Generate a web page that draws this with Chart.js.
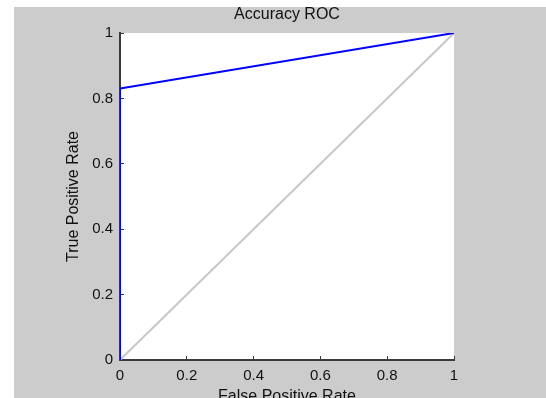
<!DOCTYPE html>
<html>
<head>
<meta charset="utf-8">
<script src="https://cdn.jsdelivr.net/npm/chart.js@4"></script>
<style>
    html, body { margin: 0; padding: 0; background: #ffffff; overflow: hidden; }
    #wrap { position: relative; width: 546px; height: 398px; }
</style>
</head>
<body>
<div id="wrap"><canvas id="rocChart" width="546" height="398"></canvas></div>
<script>
// ROC curve points
const rocFpr = [0, 0, 1];
const rocTpr = [0, 0.83, 1];

// Chance diagonal
const chanceFpr = [0, 1];
const chanceTpr = [0, 1];

// Axis ticks
const tickValues = [0, 0.2, 0.4, 0.6, 0.8, 1];
const tickLabels = ['0', '0.2', '0.4', '0.6', '0.8', '1'];

const FONT = '"Liberation Sans", Arial, sans-serif';
const AXIS_COLOR = '#3a3a3a';
const TEXT_COLOR = '#111111';

// Figure background: grey panel with white plot box
const backgroundPlugin = {
    id: 'figureBackground',
    beforeDraw(chart) {
        const ctx = chart.ctx;
        const area = chart.chartArea;
        ctx.save();
        ctx.fillStyle = '#ffffff';
        ctx.fillRect(0, 0, chart.width, chart.height);
        ctx.fillStyle = '#cccccc';
        ctx.fillRect(14, 7, chart.width - 14, chart.height - 7);
        ctx.fillStyle = '#ffffff';
        ctx.fillRect(area.left, area.top, area.right - area.left, area.bottom - area.top);
        ctx.restore();
    }
};

function toPoints(xs, ys) {
    return xs.map((x, i) => ({ x: x, y: ys[i] }));
}

function tickLabel(value) {
    const idx = tickValues.findIndex(v => Math.abs(v - value) < 1e-9);
    return idx >= 0 ? tickLabels[idx] : '';
}

const ctx = document.getElementById('rocChart').getContext('2d');

new Chart(ctx, {
    type: 'line',
    data: {
        datasets: [
            {
                label: 'ROC',
                data: toPoints(rocFpr, rocTpr),
                borderColor: '#0000ff',
                borderWidth: 2,
                pointRadius: 0,
                tension: 0,
                order: 0
            },
            {
                label: 'Chance',
                data: toPoints(chanceFpr, chanceTpr),
                borderColor: '#c8c8c8',
                borderWidth: 2,
                pointRadius: 0,
                tension: 0,
                order: 1
            }
        ]
    },
    options: {
        responsive: false,
        animation: false,
        layout: {
            padding: { left: 0, right: 92, top: 0, bottom: 0 }
        },
        plugins: {
            legend: { display: false },
            tooltip: { enabled: false },
            title: {
                display: true,
                fullSize: false, // centre over the plot box, not the canvas
                text: 'Accuracy ROC',
                color: TEXT_COLOR,
                font: { family: FONT, size: 16, weight: 'normal' },
                padding: { top: 5, bottom: 8.8 }
            }
        },
        scales: {
            x: {
                type: 'linear',
                min: 0,
                max: 1,
                afterFit: scale => { scale.height = 38; },
                afterBuildTicks: scale => { scale.ticks = tickValues.map(v => ({ value: v })); },
                border: { display: true, color: AXIS_COLOR, width: 2 },
                grid: {
                    drawOnChartArea: false,
                    drawTicks: true,
                    tickLength: -4,
                    color: AXIS_COLOR
                },
                ticks: {
                    callback: tickLabel,
                    maxRotation: 0,
                    padding: 11,
                    color: TEXT_COLOR,
                    font: { family: FONT, size: 15 }
                },
                title: {
                    display: true,
                    text: 'False Positive Rate',
                    color: TEXT_COLOR,
                    font: { family: FONT, size: 16 },
                    padding: { top: 0, bottom: -8 }
                }
            },
            y: {
                type: 'linear',
                min: 0,
                max: 1,
                afterFit: scale => { scale.width = 120; },
                afterBuildTicks: scale => { scale.ticks = tickValues.map(v => ({ value: v })); },
                border: { display: true, color: AXIS_COLOR, width: 2 },
                grid: {
                    drawOnChartArea: false,
                    drawTicks: true,
                    tickLength: -4,
                    color: AXIS_COLOR
                },
                ticks: {
                    callback: tickLabel,
                    padding: 11,
                    color: TEXT_COLOR,
                    font: { family: FONT, size: 15 }
                },
                title: {
                    display: true,
                    text: 'True Positive Rate',
                    color: TEXT_COLOR,
                    font: { family: FONT, size: 16 },
                    padding: { top: 64.4, bottom: 0 }
                }
            }
        }
    },
    plugins: [backgroundPlugin]
});
</script>
</body>
</html>
